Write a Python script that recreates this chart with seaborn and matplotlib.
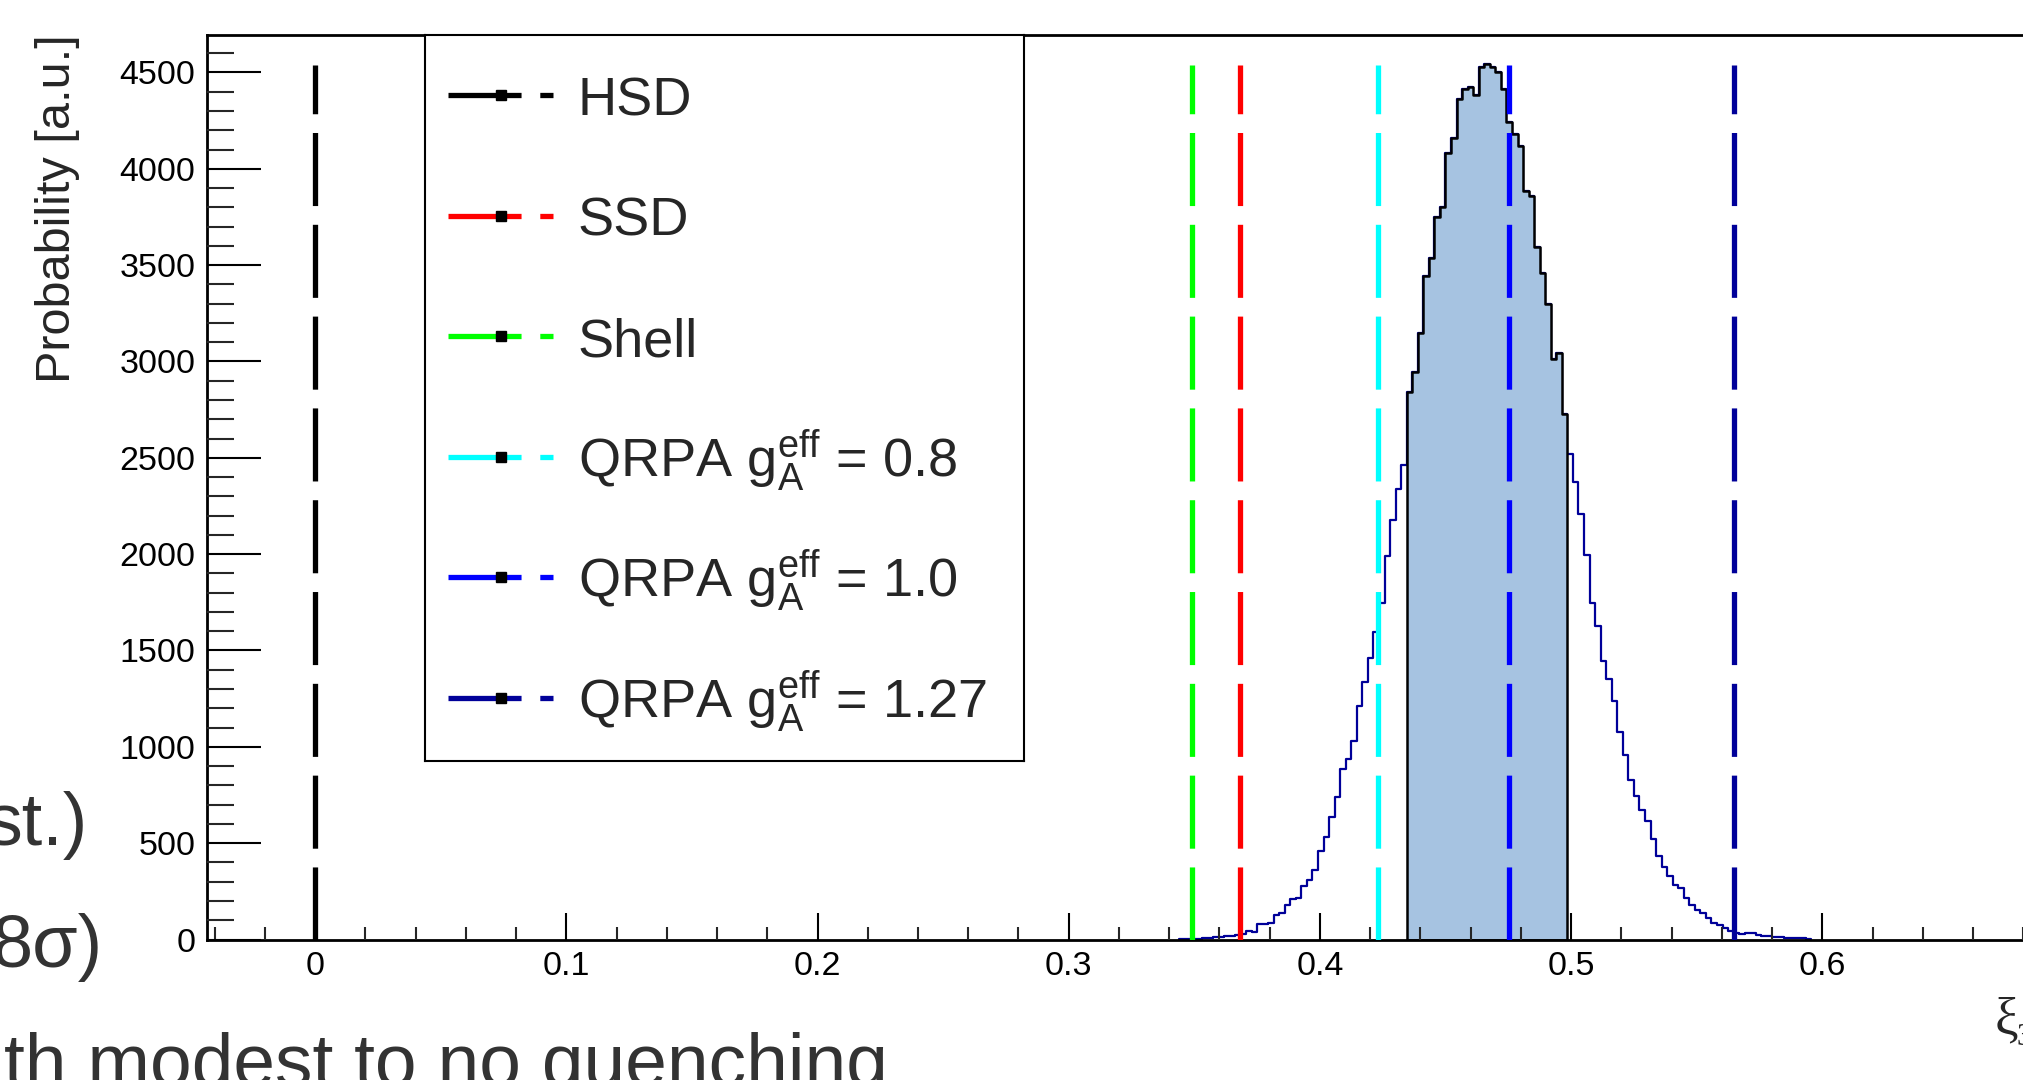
import numpy as np
import pandas as pd
import matplotlib
matplotlib.use("Agg")
import matplotlib.pyplot as plt
from matplotlib.ticker import FixedLocator, MultipleLocator, FuncFormatter
import seaborn as sns

# --- DATA ---
HIST_START = 0.3441     # left edge of the first bin
BIN_WIDTH = 0.002206
COUNTS = [
    4, 4, 5, 5, 6, 7, 12, 14, 16, 18,
    24, 28, 46, 39, 78, 78, 84, 127, 135, 178,
    208, 215, 277, 311, 363, 459, 532, 635, 742, 885,
    937, 1032, 1213, 1339, 1463, 1597, 1745, 1991, 2177, 2337,
    2462, 2839, 2947, 3146, 3444, 3535, 3752, 3800, 4080, 4161,
    4362, 4414, 4426, 4383, 4526, 4542, 4526, 4500, 4414, 4244,
    4179, 4118, 3886, 3860, 3592, 3461, 3298, 3011, 3042, 2725,
    2520, 2376, 2206, 1994, 1745, 1627, 1446, 1351, 1239, 1075,
    959, 828, 746, 670, 613, 522, 435, 377, 332, 282,
    265, 216, 178, 153, 135, 110, 87, 73, 58, 44,
    35, 28, 32, 35, 25, 20, 20, 14, 14, 9,
    9, 9, 8, 5,
]
BAND_LO, BAND_HI = 0.4346, 0.4985   # shaded interval

MODEL_LABELS = [
    "HSD", "SSD", "Shell",
    r"QRPA g$_\mathrm{A}^\mathrm{eff}$ = 0.8",
    r"QRPA g$_\mathrm{A}^\mathrm{eff}$ = 1.0",
    r"QRPA g$_\mathrm{A}^\mathrm{eff}$ = 1.27",
]
MODEL_XI = [0.0, 0.368, 0.349, 0.423, 0.4754, 0.5648]
MODEL_COLORS = ["#000000", "#ff0000", "#00ff00", "#00ffff", "#0000ff", "#000099"]
LINE_TOP = 4539

X_TICKS = [0, 0.1, 0.2, 0.3, 0.4, 0.5, 0.6, 0.7]
XLIM = (-0.0432, 0.76)
YLIM = (0, 4697)

NAVY = "#000099"
BAND_COLOR = "#a6c3e1"
SLIDE_GRAY = "#333333"
DASH = (52.6, 13.5)   # points

# --- STYLE ---
sns.set_theme(style="ticks")
plt.rcParams["font.family"] = ["Liberation Sans", "DejaVu Sans"]
plt.rcParams["mathtext.fontset"] = "custom"
plt.rcParams["mathtext.rm"] = "Liberation Sans"
plt.rcParams["mathtext.it"] = "Liberation Sans:italic"
plt.rcParams["lines.scale_dashes"] = False

W, H = 2023, 1080
fig = plt.figure(figsize=(W / 100, H / 100), dpi=100)

# main axes (right end runs past the figure edge, as in the cropped original)
ax_left, ax_top, ax_bottom = 206.6, 34.5, 939.5
ax_w = (XLIM[1] - XLIM[0]) * 2512
ax = fig.add_axes([ax_left / W, 1 - ax_bottom / H, ax_w / W, (ax_bottom - ax_top) / H])

edges = HIST_START + BIN_WIDTH * np.arange(len(COUNTS) + 1)
hist_df = pd.DataFrame({"xi": 0.5 * (edges[:-1] + edges[1:]), "count": COUNTS})
hist_df["in_band"] = (hist_df["xi"] > BAND_LO) & (hist_df["xi"] < BAND_HI)

sns.histplot(data=hist_df, x="xi", weights="count", bins=list(edges),
             element="step", fill=False, color=NAVY, linewidth=1.6, ax=ax, zorder=1.5)

band_df = hist_df[hist_df["in_band"]]
idx = band_df.index.to_numpy()
band_edges = list(edges[idx[0]:idx[-1] + 2])
sns.histplot(data=band_df, x="xi", weights="count", bins=band_edges,
             element="step", fill=True, color=BAND_COLOR, alpha=1,
             edgecolor="black", linewidth=1.8, ax=ax, zorder=2)

for xi, col in zip(MODEL_XI, MODEL_COLORS):
    ax.plot([xi, xi], [0, LINE_TOP], color=col, lw=3.8, dashes=DASH, zorder=3)

ax.set_xlim(*XLIM)
ax.set_ylim(*YLIM)
ax.set_xlabel("")
ax.set_ylabel("")
ax.set_axisbelow(False)

ax.xaxis.set_major_locator(FixedLocator(X_TICKS))
ax.xaxis.set_minor_locator(MultipleLocator(0.02))
ax.yaxis.set_major_locator(MultipleLocator(500))
ax.yaxis.set_minor_locator(MultipleLocator(100))
fmt = FuncFormatter(lambda v, p: f"{v:g}")
ax.xaxis.set_major_formatter(fmt)
ax.yaxis.set_major_formatter(fmt)

ax.tick_params(axis="x", which="major", direction="in", length=19.7, width=1.5,
               pad=8.5, labelsize=24.5, colors="black", top=False)
ax.tick_params(axis="x", which="minor", direction="in", length=9.6, width=1.5, top=False)
ax.tick_params(axis="y", which="major", direction="in", length=39, width=1.5,
               pad=8, labelsize=24.5, colors="black", right=False)
ax.tick_params(axis="y", which="minor", direction="in", length=19.3, width=1.5, right=False)
for side in ["left", "bottom", "top", "right"]:
    ax.spines[side].set_color("black")
    ax.spines[side].set_linewidth(2.0)

fig.text(58 / W, 1 - 34.5 / H, "Probability [a.u.]", rotation=90,
         ha="center", va="top", fontsize=35)

# x title, right-aligned at the (cropped) axis end
fig.text(1995 / W, 1 - 1033 / H, "\u03be", family=["Liberation Serif", "DejaVu Serif"],
         fontsize=38, va="baseline", ha="left")
fig.text(2016 / W, 1 - 1045 / H, "31", family=["Liberation Serif", "DejaVu Serif"],
         fontsize=22, va="baseline", ha="left")

# legend box, drawn in pixel coordinates
lx0, lx1, ly0, ly1 = 425, 1023.7, 34.5, 761
leg = fig.add_axes([lx0 / W, 1 - ly1 / H, (lx1 - lx0) / W, (ly1 - ly0) / H])
leg.set_xlim(lx0, lx1)
leg.set_ylim(ly1, ly0)
leg.set_xticks([])
leg.set_yticks([])
leg.set_facecolor("white")
for side in leg.spines.values():
    side.set_color("black")
    side.set_linewidth(1.5)
for i, (label, col) in enumerate(zip(MODEL_LABELS, MODEL_COLORS)):
    y = 95 + 120.5 * i
    leg.plot([448, 553], [y, y], color=col, lw=3.8, dashes=DASH)
    leg.plot([500.5], [y], marker="s", ms=7.3, color="black", ls="none")
    leg.text(577.5, y + 20.5, label, fontsize=39, va="baseline", ha="left")

# slide text peeking out behind the plot
fig.text(88 / W, 1 - 845 / H, "st.)", ha="right", va="baseline", fontsize=53, color=SLIDE_GRAY)
fig.text(103 / W, 1 - 967 / H, "8\u03c3)", ha="right", va="baseline", fontsize=53, color=SLIDE_GRAY)
fig.text(4 / W, 1 - 1086 / H, "th modest to no quenching", ha="left", va="baseline",
         fontsize=54, color=SLIDE_GRAY)

fig.savefig("out.png", dpi=100)
